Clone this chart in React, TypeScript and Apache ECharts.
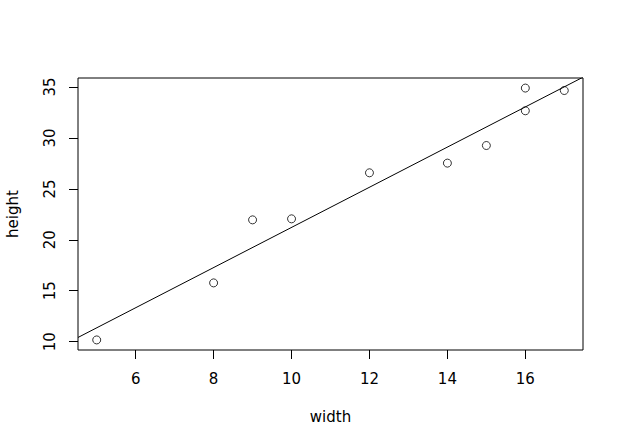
import React, { useEffect, useRef } from "react";
import * as echarts from "echarts";

const widthValues = [5, 8, 9, 10, 12, 14, 15, 16, 16, 17];
const heightValues = [10.17, 15.77, 21.96, 22.06, 26.58, 27.53, 29.26, 32.67, 34.9, 34.66];
const xTicks = [6, 8, 10, 12, 14, 16];
const yTicks = [10, 15, 20, 25, 30, 35];

function extendRange(vals: number[]) {
  const lo = Math.min(...vals);
  const hi = Math.max(...vals);
  const d = (hi - lo) * 0.04;
  return [lo - d, hi + d];
}

function fitLine(xs: number[], ys: number[]) {
  const n = xs.length;
  const mx = xs.reduce((a, b) => a + b, 0) / n;
  const my = ys.reduce((a, b) => a + b, 0) / n;
  let sxy = 0;
  let sxx = 0;
  for (let i = 0; i < n; i++) {
    sxy += (xs[i] - mx) * (ys[i] - my);
    sxx += (xs[i] - mx) * (xs[i] - mx);
  }
  const b = sxy / sxx;
  return { a: my - b * mx, b };
}

export default function App() {
  const ref = useRef<HTMLDivElement>(null);
  useEffect(() => {
    if (!ref.current) return;
    const chart = echarts.init(ref.current, undefined, { renderer: "svg" });
    const [xmin, xmax] = extendRange(widthValues);
    const [ymin, ymax] = extendRange(heightValues);
    const { a, b } = fitLine(widthValues, heightValues);
    const font = "DejaVu Sans";
    chart.setOption({
      animation: false,
      backgroundColor: "#ffffff",
      textStyle: { fontFamily: font },
      grid: {
        left: 78,
        top: 78,
        width: 505,
        height: 272,
        containLabel: false,
        outerBoundsMode: "none",
        show: true,
        borderColor: "#000000",
        borderWidth: 1,
        backgroundColor: "transparent",
      },
      xAxis: {
        type: "value",
        min: xmin,
        max: xmax,
        name: "width",
        nameLocation: "middle",
        nameGap: 59,
        nameTextStyle: { fontSize: 15, color: "#000", fontFamily: font },
        axisLine: { show: false },
        splitLine: { show: false },
        axisTick: {
          show: true,
          length: 9,
          inside: false,
          customValues: xTicks,
          lineStyle: { color: "#000", width: 1 },
        },
        axisLabel: {
          customValues: xTicks,
          fontSize: 15,
          color: "#000",
          margin: 21,
          fontFamily: font,
        },
      },
      yAxis: {
        type: "value",
        min: ymin,
        max: ymax,
        name: "height",
        nameLocation: "middle",
        nameGap: 58,
        nameRotate: 90,
        nameTextStyle: { fontSize: 15, color: "#000", fontFamily: font },
        axisLine: { show: false },
        splitLine: { show: false },
        axisTick: {
          show: true,
          length: 9,
          inside: false,
          customValues: yTicks,
          lineStyle: { color: "#000", width: 1 },
        },
        axisLabel: {
          customValues: yTicks,
          fontSize: 15,
          color: "#000",
          rotate: 90,
          margin: 21,
          fontFamily: font,
        },
      },
      series: [
        {
          type: "line",
          data: [
            [xmin, a + b * xmin],
            [xmax, a + b * xmax],
          ],
          showSymbol: false,
          symbol: "none",
          clip: true,
          lineStyle: { color: "#000", width: 1 },
          silent: true,
        },
        {
          type: "scatter",
          data: widthValues.map((x, i) => [x, heightValues[i]]),
          symbol: "circle",
          symbolSize: 8,
          itemStyle: { color: "transparent", borderColor: "#000", borderWidth: 1 },
        },
      ],
    });
    return () => chart.dispose();
  }, []);
  return <div ref={ref} style={{ width: 624, height: 448, position: "absolute", left: 0, top: 0 }} />;
}
